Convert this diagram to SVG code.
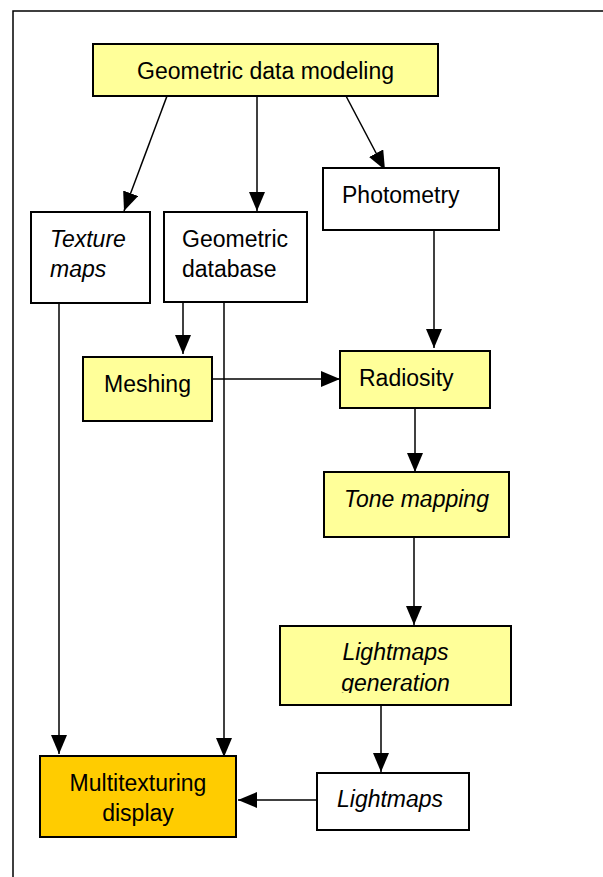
<svg xmlns="http://www.w3.org/2000/svg" width="603" height="877" viewBox="0 0 603 877">
<style>
.box{stroke:#000;stroke-width:2}
.y{fill:#FFFF99}
.w{fill:#FFFFFF}
.o{fill:#FFCC00}
text{font-family:"Liberation Sans",Arial,sans-serif;font-size:23px;fill:#000}
.i{font-style:italic}
.c{text-anchor:middle}
.ln{stroke:#000;stroke-width:1.5;fill:none}
</style>
<defs>
<marker id="ah" markerUnits="userSpaceOnUse" markerWidth="20" markerHeight="17" refX="19" refY="8" orient="auto">
<path d="M0,0 L19,8 L0,16 z" fill="#000"/>
</marker>
<clipPath id="clipGen"><rect x="280" y="626" width="231" height="67"/></clipPath>
</defs>
<rect x="0" y="0" width="603" height="877" fill="#fff"/>
<rect x="13" y="11" width="620" height="900" fill="none" stroke="#000" stroke-width="1.5"/>

<g id="connectors">
<line class="ln" x1="167" y1="96" x2="124" y2="211" marker-end="url(#ah)"/>
<line class="ln" x1="257" y1="96" x2="257" y2="211" marker-end="url(#ah)"/>
<line class="ln" x1="346" y1="96" x2="385" y2="170" marker-end="url(#ah)"/>
<line class="ln" x1="434" y1="230" x2="434" y2="348" marker-end="url(#ah)"/>
<line class="ln" x1="183" y1="303" x2="183" y2="354" marker-end="url(#ah)"/>
<line class="ln" x1="212" y1="379" x2="340" y2="379" marker-end="url(#ah)"/>
<line class="ln" x1="415" y1="408" x2="415" y2="472" marker-end="url(#ah)"/>
<line class="ln" x1="414" y1="537" x2="414" y2="625" marker-end="url(#ah)"/>
<line class="ln" x1="381" y1="705" x2="381" y2="772" marker-end="url(#ah)"/>
<line class="ln" x1="317" y1="800" x2="238" y2="800" marker-end="url(#ah)"/>
<line class="ln" x1="59" y1="303" x2="59" y2="754" marker-end="url(#ah)"/>
<line class="ln" x1="224" y1="298" x2="224" y2="757" marker-end="url(#ah)"/>
</g>

<g id="geometric-data-modeling">
<rect class="box y" x="93" y="44" width="345" height="52"/>
<text class="c" x="265.5" y="79">Geometric data modeling</text>
</g>

<g id="texture-maps">
<rect class="box w" x="31" y="212" width="119" height="91"/>
<text class="i" x="50" y="247">Texture</text>
<text class="i" x="50" y="277">maps</text>
</g>

<g id="geometric-database">
<rect class="box w" x="164" y="212" width="143" height="90"/>
<text x="182" y="247">Geometric</text>
<text x="182" y="277">database</text>
</g>

<g id="photometry">
<rect class="box w" x="323" y="168" width="176" height="62"/>
<text x="342" y="203">Photometry</text>
</g>

<g id="meshing">
<rect class="box y" x="83" y="357" width="129" height="64"/>
<text x="104" y="392">Meshing</text>
</g>

<g id="radiosity">
<rect class="box y" x="340" y="351" width="150" height="57"/>
<text x="359" y="386">Radiosity</text>
</g>

<g id="tone-mapping">
<rect class="box y" x="324" y="472" width="185" height="65"/>
<text class="i" x="344" y="507">Tone mapping</text>
</g>

<g id="lightmaps-generation">
<rect class="box y" x="280" y="626" width="231" height="79"/>
<g clip-path="url(#clipGen)">
<text class="i c" x="395.5" y="660">Lightmaps</text>
<text class="i c" x="395.5" y="691">generation</text>
</g>
</g>

<g id="lightmaps">
<rect class="box w" x="317" y="773" width="152" height="57"/>
<text class="i" x="337" y="807">Lightmaps</text>
</g>

<g id="multitexturing-display">
<rect class="box o" x="40" y="756" width="196" height="81"/>
<text class="c" x="138" y="791">Multitexturing</text>
<text class="c" x="138" y="821">display</text>
</g>
</svg>
